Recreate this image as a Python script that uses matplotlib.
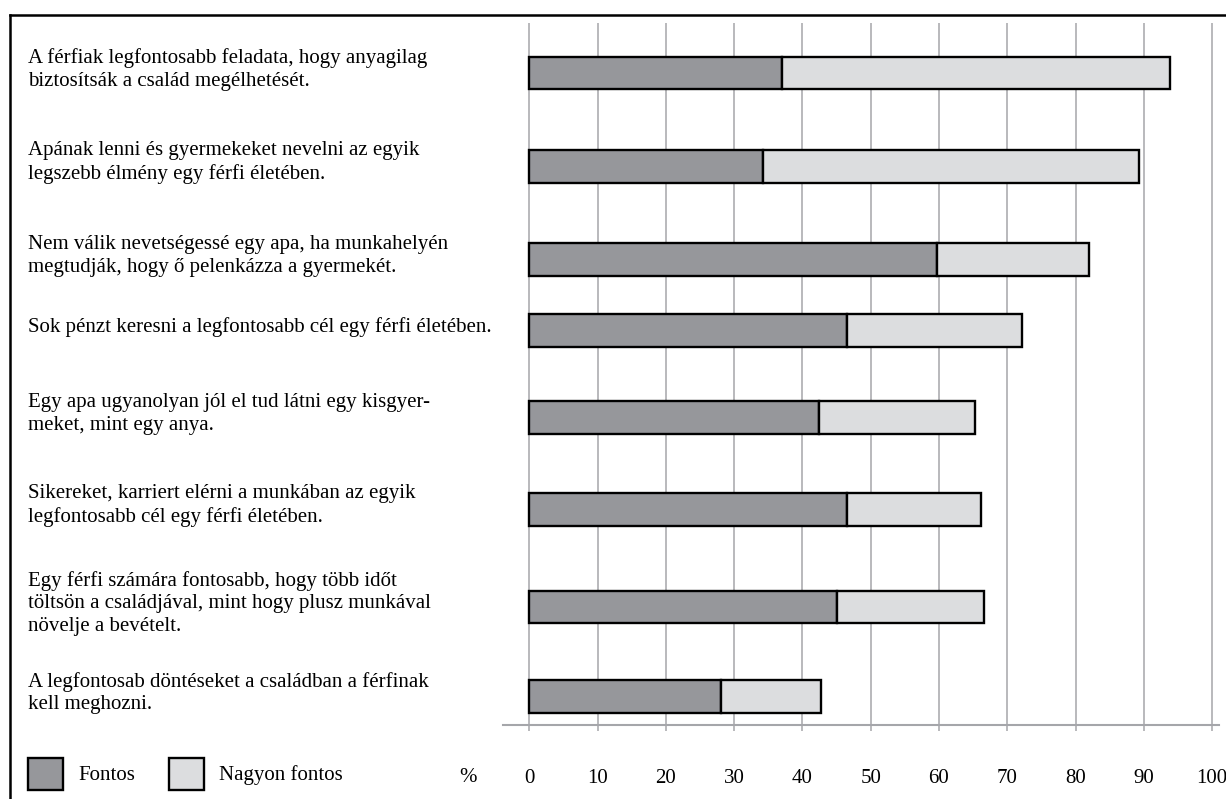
import matplotlib
matplotlib.use("Agg")
import matplotlib.pyplot as plt
from matplotlib.lines import Line2D
from matplotlib.patches import Rectangle

# Survey statements (top to bottom) and shares in percent.
STATEMENTS = [
    "A férfiak legfontosabb feladata, hogy anyagilag\nbiztosítsák a család megélhetését.",
    "Apának lenni és gyermekeket nevelni az egyik\nlegszebb élmény egy férfi életében.",
    "Nem válik nevetségessé egy apa, ha munkahelyén\nmegtudják, hogy ő pelenkázza a gyermekét.",
    "Sok pénzt keresni a legfontosabb cél egy férfi életében.",
    "Egy apa ugyanolyan jól el tud látni egy kisgyer-\nmeket, mint egy anya.",
    "Sikereket, karriert elérni a munkában az egyik\nlegfontosabb cél egy férfi életében.",
    "Egy férfi számára fontosabb, hogy több időt\ntöltsön a családjával, mint hogy plusz munkával\nnövelje a bevételt.",
    "A legfontosab döntéseket a családban a férfinak\nkell meghozni.",
]
FONTOS = [37.0, 34.2, 59.7, 46.6, 42.4, 46.6, 45.1, 28.1]
NAGYON_FONTOS = [56.8, 55.1, 22.3, 25.5, 22.9, 19.6, 21.5, 14.6]
SERIES_LABELS = ["Fontos", "Nagyon fontos"]
X_TICKS = list(range(0, 101, 10))

# Layout: the rows follow the hand-set label text, so their centres are
# given in pixels from the top of the 1226x799 canvas.
W, H = 1226, 799
ROW_Y = [73, 166.3, 259.5, 330.8, 417.3, 509.3, 607, 696.5]
BAR_H = 32.7

DARK = "#96979b"
LIGHT = "#dcdddf"
GRID = "#a5a6aa"
FONT = "Liberation Serif"
FS = 15

fig = plt.figure(figsize=(W / 100, H / 100), dpi=100)
ax = fig.add_axes([503 / W, 1 - 725 / H, (1219 - 503) / W, (725 - 23) / H])
ax.set_xlim(-3.84, 101.0)
ax.set_ylim(725, 23)

ax.barh(ROW_Y, FONTOS, height=BAR_H, color=DARK, edgecolor="black",
        linewidth=1.7, zorder=3)
ax.barh(ROW_Y, NAGYON_FONTOS, left=FONTOS, height=BAR_H, color=LIGHT,
        edgecolor="black", linewidth=1.7, zorder=3)

ax.set_xticks(X_TICKS)
ax.set_xticklabels([str(t) for t in X_TICKS], family=FONT, fontsize=FS)
ax.set_yticks([])
ax.grid(axis="x", color=GRID, linewidth=1.1)
ax.set_axisbelow(True)
for side in ("top", "left", "right"):
    ax.spines[side].set_visible(False)
ax.spines["bottom"].set_color(GRID)
ax.spines["bottom"].set_linewidth(1.5)
ax.tick_params(axis="x", direction="out", length=4.5, width=1.1,
               color=GRID, pad=27, labelcolor="black")

for y, text in zip(ROW_Y, STATEMENTS):
    fig.text(28 / W, 1 - (y - 3.5) / H, text, ha="left", va="center",
             family=FONT, fontsize=FS, linespacing=1.25)

fig.text(468 / W, 1 - 777 / H, "%", ha="center", va="center",
         family=FONT, fontsize=FS)

# Legend swatches
for x0, color, label in zip([28, 169], [DARK, LIGHT], SERIES_LABELS):
    fig.add_artist(Rectangle((x0 / W, 1 - 790 / H), 35 / W, 32 / H,
                             transform=fig.transFigure, facecolor=color,
                             edgecolor="black", linewidth=1.7))
    fig.text((x0 + 50) / W, 1 - 775 / H, label, ha="left", va="center",
             family=FONT, fontsize=FS)

# Frame lines on the top and left only
fig.add_artist(Line2D([10 / W, 1], [1 - 15 / H, 1 - 15 / H],
                      transform=fig.transFigure, color="black", linewidth=1.8))
fig.add_artist(Line2D([10 / W, 10 / W], [0, 1 - 15 / H],
                      transform=fig.transFigure, color="black", linewidth=1.8))

fig.savefig("out.png", dpi=100, facecolor="white")
